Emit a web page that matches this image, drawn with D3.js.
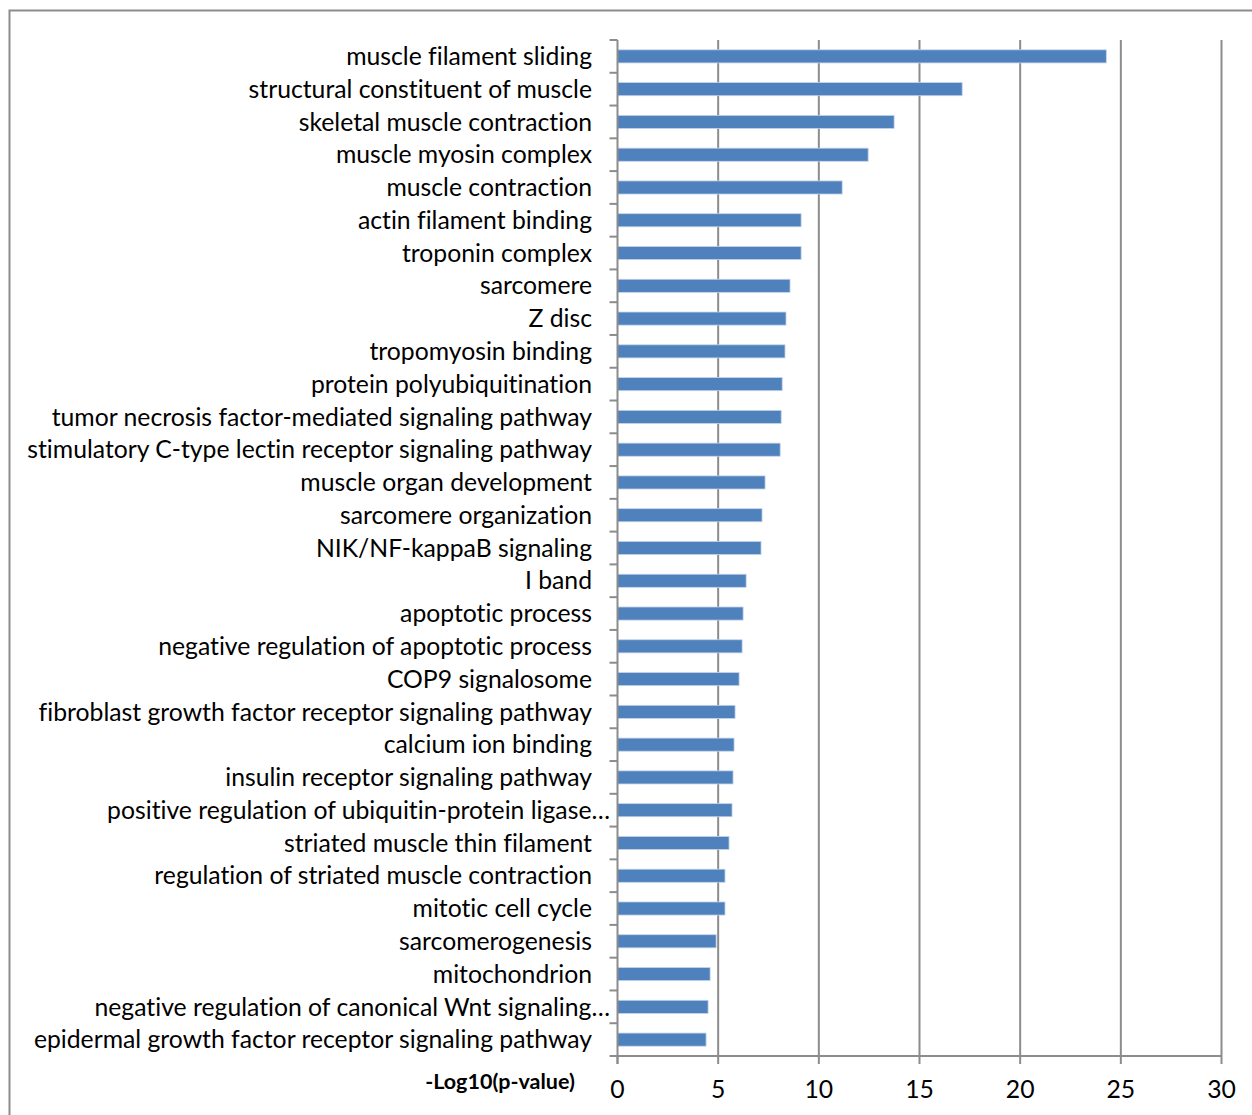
<!DOCTYPE html>
<html>
<head>
<meta charset="utf-8">
<script src="https://cdn.jsdelivr.net/npm/d3@7"></script>
<style>
body{margin:0;background:#fff}
svg{display:block}
text{font-variant-ligatures:none;font-feature-settings:"liga" 0,"clig" 0}
</style>
</head>
<body>
<svg id="chart" width="1252" height="1115"></svg>
<script>
var terms = ["muscle filament sliding","structural constituent of muscle","skeletal muscle contraction",
  "muscle myosin complex","muscle contraction","actin filament binding","troponin complex","sarcomere",
  "Z disc","tropomyosin binding","protein polyubiquitination","tumor necrosis factor-mediated signaling pathway",
  "stimulatory C-type lectin receptor signaling pathway","muscle organ development","sarcomere organization",
  "NIK/NF-kappaB signaling","I band","apoptotic process","negative regulation of apoptotic process",
  "COP9 signalosome","fibroblast growth factor receptor signaling pathway","calcium ion binding",
  "insulin receptor signaling pathway","positive regulation of ubiquitin-protein ligase…",
  "striated muscle thin filament","regulation of striated muscle contraction","mitotic cell cycle",
  "sarcomerogenesis","mitochondrion","negative regulation of canonical Wnt signaling…",
  "epidermal growth factor receptor signaling pathway"]
var logp = [24.28,17.12,13.74,12.45,11.16,9.12,9.12,8.57,8.37,8.32,8.18,8.13,8.08,7.33,7.18,7.13,
  6.39,6.24,6.19,6.04,5.84,5.79,5.74,5.69,5.54,5.34,5.34,4.9,4.6,4.5,4.4]
var xticks = [0,5,10,15,20,25,30]
var axisTitle = "-Log10(p-value)"

var svg = d3.select("#chart")
var pLeft = 617.5, pRight = 1221.5, pTop = 40, pBottom = 1056
var font = "Lato, 'Open Sans', sans-serif"

// frame of the chart area (runs off the right and bottom)
svg.append("path")
  .attr("d","M9.5,1115 V10.5 H1252")
  .attr("fill","none").attr("stroke","#8c8c8c").attr("stroke-width",2)

var x = d3.scaleLinear().domain([0,30]).range([pLeft,pRight])
var y = d3.scaleBand().domain(terms).range([pTop,pBottom]).paddingInner(0.6).paddingOuter(0.3)

// vertical gridlines
svg.selectAll("line.grid").data(xticks.slice(1)).enter()
  .append("line").attr("class","grid")
  .attr("x1",d=>x(d)).attr("x2",d=>x(d))
  .attr("y1",pTop).attr("y2",pBottom)
  .attr("stroke","#8c8c8c").attr("stroke-width",2)

svg.selectAll("rect.bar").data(terms).enter()
  .append("rect").attr("class","bar")
  .attr("x",x(0))
  .attr("y",d=>y(d))
  .attr("width",(d,i)=>x(logp[i])-x(0))
  .attr("height",y.bandwidth())
  .attr("fill","#4f81bd")
  .attr("stroke","#c5d4ea").attr("stroke-width",0.8)

// category axis
var step = (pBottom-pTop)/terms.length
var catTicks = d3.range(terms.length+1).map(i=>pTop+i*step)
svg.append("line").attr("x1",pLeft).attr("x2",pLeft).attr("y1",pTop).attr("y2",pBottom+8)
  .attr("stroke","#8c8c8c").attr("stroke-width",2)
svg.selectAll("line.ctick").data(catTicks).enter()
  .append("line").attr("class","ctick")
  .attr("x1",pLeft-8).attr("x2",pLeft).attr("y1",d=>d).attr("y2",d=>d)
  .attr("stroke","#8c8c8c").attr("stroke-width",2)

var labels = svg.selectAll("text.term").data(terms).enter()
  .append("text").attr("class","term")
  .attr("x",d=>d.endsWith("…")? 610 : 592)
  .attr("y",d=>y(d)+y.bandwidth()/2)
  .attr("dy","0.35em")
  .attr("text-anchor","end")
  .attr("font-family",font).attr("font-size",22)
  .attr("fill","#000")
  .text(d=>d)

// size the labels so the longest one spans like in the original (~565px)
var widest = d3.max(labels.nodes(), n=>n.getComputedTextLength())
var fs = 22*565/widest
labels.attr("font-size",fs)

// value axis
svg.append("line").attr("x1",pLeft).attr("x2",pRight).attr("y1",pBottom).attr("y2",pBottom)
  .attr("stroke","#8c8c8c").attr("stroke-width",2)
svg.selectAll("line.xtick").data(xticks).enter()
  .append("line").attr("class","xtick")
  .attr("x1",d=>x(d)).attr("x2",d=>x(d)).attr("y1",pBottom).attr("y2",pBottom+8)
  .attr("stroke","#8c8c8c").attr("stroke-width",2)
svg.selectAll("text.xlab").data(xticks).enter()
  .append("text").attr("class","xlab")
  .attr("x",d=>x(d)).attr("y",1098)
  .attr("text-anchor","middle")
  .attr("font-family",font).attr("font-size",fs)
  .text(d=>d)

svg.append("text")
  .attr("x",500).attr("y",1089)
  .attr("text-anchor","middle")
  .attr("font-family",font).attr("font-size",21.5).attr("font-weight","bold")
  .text(axisTitle)
</script>
</body>
</html>
